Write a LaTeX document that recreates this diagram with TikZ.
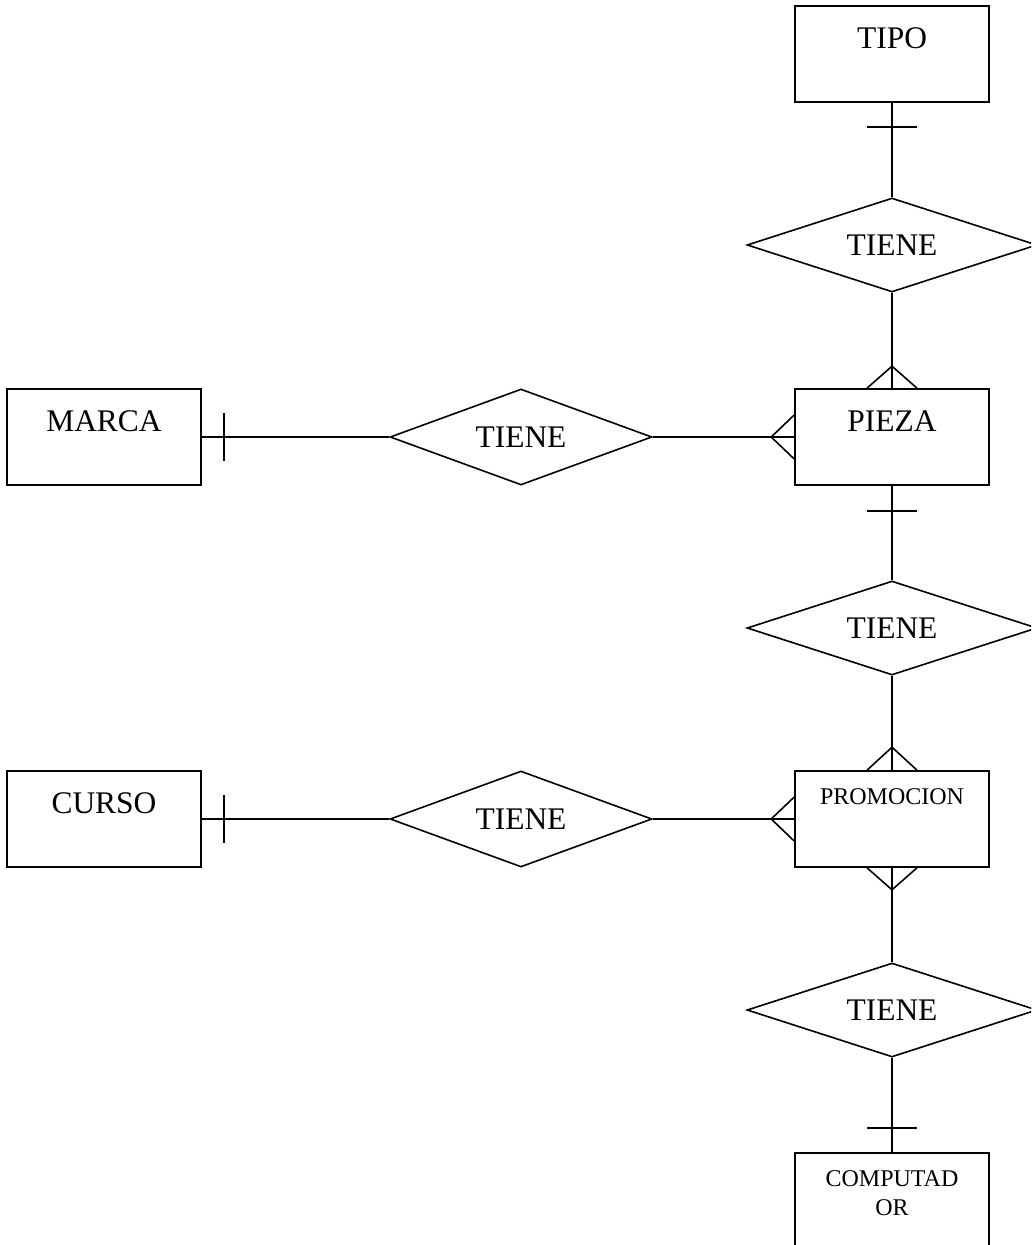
\documentclass[tikz,border=0pt]{standalone}
\usepackage{fontspec}
\setmainfont{Liberation Serif}
\usetikzlibrary{shapes.geometric,calc}
\begin{document}
\begin{tikzpicture}[x=0.75pt,y=-0.75pt, line width=1.2pt,
  entity/.style={draw, rectangle, minimum width=145.5pt, minimum height=72pt, inner sep=0pt},
  bigtxt/.style={font=\fontsize{23.6}{28}\selectfont},
  smalltxt/.style={font=\fontsize{18}{21.75}\selectfont, align=center},
  biglab/.style={bigtxt, anchor=north, inner sep=0pt, yshift=-16.5pt},
  smalllab/.style={smalltxt, anchor=north, inner sep=0pt, yshift=-13pt},
  rel/.style={draw, diamond, aspect=3, inner sep=0pt, bigtxt},
  vrel/.style={rel, minimum width=217.5pt, minimum height=70.5pt},
  hrel/.style={rel, minimum width=196.5pt, minimum height=72pt},
]
\useasboundingbox (0,0) rectangle (1031,1245);
\clip (0,0) rectangle (1031,1245);

% entities
\node[entity, label={[biglab]north:TIPO}] (tipo) at (892,54) {};
\node[entity, label={[biglab]north:PIEZA}] (pieza) at (892,437) {};
\node[entity, label={[smalllab]north:PROMOCION}] (promo) at (892,819) {};
\node[entity, label={[smalllab]north:{COMPUTAD\\OR}}] (comp) at (892,1201) {};
\node[entity, label={[biglab]north:MARCA}] (marca) at (104,437) {};
\node[entity, label={[biglab]north:CURSO}] (curso) at (104,819) {};

% relationships
\node[vrel] (d1) at (892,245) {TIENE};
\node[vrel] (d2) at (892,628) {TIENE};
\node[vrel] (d4) at (892,1010) {TIENE};
\node[hrel] (dm) at (521,437) {TIENE};
\node[hrel] (dc) at (521,819) {TIENE};

% TIPO - TIENE - PIEZA
\draw (tipo.south) -- (d1.north);
\draw ($(tipo.south)+(-25,24)$) -- ($(tipo.south)+(25,24)$);
\draw (d1.south) -- (pieza.north);
\draw ($(pieza.north)+(-25,0)$) -- ($(pieza.north)+(0,-22)$) -- ($(pieza.north)+(25,0)$);

% PIEZA - TIENE - PROMOCION
\draw (pieza.south) -- (d2.north);
\draw ($(pieza.south)+(-25,25)$) -- ($(pieza.south)+(25,25)$);
\draw (d2.south) -- (promo.north);
\draw ($(promo.north)+(-25,0)$) -- ($(promo.north)+(0,-23)$) -- ($(promo.north)+(25,0)$);

% PROMOCION - TIENE - COMPUTADOR
\draw (promo.south) -- (d4.north);
\draw ($(promo.south)+(-25,0)$) -- ($(promo.south)+(0,22)$) -- ($(promo.south)+(25,0)$);
\draw (d4.south) -- (comp.north);
\draw ($(comp.north)+(-25,-24)$) -- ($(comp.north)+(25,-24)$);

% MARCA - TIENE - PIEZA
\draw (marca.east) -- (dm.west);
\draw ($(marca.east)+(22,-24)$) -- ($(marca.east)+(22,24)$);
\draw (dm.east) -- (pieza.west);
\draw ($(pieza.west)+(0,-22)$) -- ($(pieza.west)+(-23,0)$) -- ($(pieza.west)+(0,22)$);

% CURSO - TIENE - PROMOCION
\draw (curso.east) -- (dc.west);
\draw ($(curso.east)+(22,-24)$) -- ($(curso.east)+(22,24)$);
\draw (dc.east) -- (promo.west);
\draw ($(promo.west)+(0,-22)$) -- ($(promo.west)+(-23,0)$) -- ($(promo.west)+(0,22)$);
\end{tikzpicture}
\end{document}
